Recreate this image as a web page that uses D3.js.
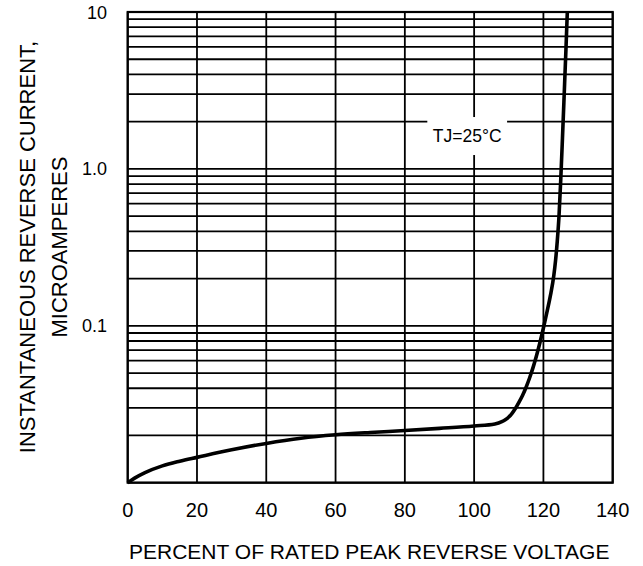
<!DOCTYPE html>
<html>
<head>
<meta charset="utf-8">
<script src="https://cdn.jsdelivr.net/npm/d3@7"></script>
<style>
  html, body { margin: 0; padding: 0; background: #fff; }
  svg { display: block; font-family: "Liberation Sans", Arial, sans-serif; }
</style>
</head>
<body>
<svg id="chart" width="643" height="566"></svg>
<script>
// ---- data ----
const percentVoltage = [0, 2, 5, 10, 15, 20, 30, 40, 50, 60, 70, 80, 90, 100, 106, 108, 109, 110, 111, 112, 113, 114, 115, 116, 117, 118, 119, 120, 121, 122, 123, 123.5, 124, 124.5, 125, 125.5, 126, 126.5, 126.9];
const reverseCurrent = [0.01, 0.0107, 0.0116, 0.0128, 0.0137, 0.0145, 0.0162, 0.0178, 0.0192, 0.0202, 0.0209, 0.0215, 0.0222, 0.0230, 0.0237, 0.0245, 0.0252, 0.0262, 0.0278, 0.0299, 0.0327, 0.0361, 0.0406, 0.0465, 0.0541, 0.0644, 0.0782, 0.0968, 0.1216, 0.155, 0.209, 0.26, 0.347, 0.50, 0.85, 1.57, 2.99, 5.75, 10];
const xTickValues = [0, 20, 40, 60, 80, 100, 120, 140];
const yTickValues = [0.1, 1, 10];
const yTickLabels = ["0.1", "1.0", "10"];
const xTitle = "PERCENT OF RATED PEAK REVERSE VOLTAGE";
const yTitleLines = ["INSTANTANEOUS REVERSE CURRENT,", "MICROAMPERES"];
const annotationText = "TJ=25°C";
const annotationAt = [98, 1.62];

// ---- layout ----
const svg = d3.select("#chart");
const plotL = 127.7, plotR = 612.7, plotT = 12, plotB = 482.7;

const x = d3.scaleLinear().domain([0, 140]).range([plotL, plotR]);
const y = d3.scaleLog().domain([0.01, 10]).range([plotB, plotT]);

const grid = svg.append("g").attr("stroke", "#000").attr("stroke-width", 1.8);

// horizontal log grid
grid.selectAll("line.h").data(y.ticks()).join("line")
  .attr("class", "h")
  .attr("x1", plotL).attr("x2", plotR)
  .attr("y1", d => y(d)).attr("y2", d => y(d));

// vertical grid
grid.selectAll("line.v").data(xTickValues).join("line")
  .attr("class", "v")
  .attr("x1", d => x(d)).attr("x2", d => x(d))
  .attr("y1", plotT).attr("y2", plotB);

// frame
svg.append("rect")
  .attr("x", plotL).attr("y", plotT)
  .attr("width", plotR - plotL).attr("height", plotB - plotT)
  .attr("fill", "none").attr("stroke", "#000").attr("stroke-width", 2.2);

// annotation with white box
const ann = svg.append("g");
const annText = ann.append("text")
  .attr("x", x(annotationAt[0])).attr("y", y(annotationAt[1]))
  .attr("text-anchor", "middle").attr("dominant-baseline", "central")
  .attr("font-size", 17.5).attr("fill", "#000")
  .text(annotationText);
const bb = annText.node().getBBox();
ann.insert("rect", "text")
  .attr("x", bb.x - 5.5).attr("y", y(annotationAt[1]) - 19)
  .attr("width", bb.width + 11).attr("height", 38)
  .attr("fill", "#fff");

// curve
const line = d3.line()
  .x((d, i) => x(percentVoltage[i]))
  .y(d => y(d))
  .curve(d3.curveMonotoneX);
svg.append("path")
  .datum(reverseCurrent)
  .attr("d", line)
  .attr("fill", "none").attr("stroke", "#000")
  .attr("stroke-width", 3.6).attr("stroke-linejoin", "round");

// x tick labels
svg.append("g").selectAll("text").data(xTickValues).join("text")
  .attr("x", d => x(d)).attr("y", 510)
  .attr("text-anchor", "middle").attr("dominant-baseline", "central")
  .attr("font-size", 20).attr("fill", "#000")
  .text(d => d);

// y tick labels
svg.append("g").selectAll("text").data(yTickValues).join("text")
  .attr("x", 107).attr("y", d => y(d) + (d === 10 ? 1 : 0))
  .attr("text-anchor", "end").attr("dominant-baseline", "central")
  .attr("font-size", 18).attr("fill", "#000")
  .text((d, i) => yTickLabels[i]);

// x title
svg.append("text")
  .attr("x", (plotL + plotR) / 2 - 1).attr("y", 551)
  .attr("text-anchor", "middle").attr("dominant-baseline", "central")
  .attr("font-size", 21).attr("fill", "#000")
  .text(xTitle);

// y title
const yt = svg.append("text")
  .attr("transform", "translate(27,247) rotate(-90)")
  .attr("text-anchor", "middle")
  .attr("font-size", 22).attr("fill", "#000");
yt.selectAll("tspan").data(yTitleLines).join("tspan")
  .attr("x", 0).attr("dy", (d, i) => i === 0 ? "0.35em" : "1.45em")
  .text(d => d);
</script>
</body>
</html>
